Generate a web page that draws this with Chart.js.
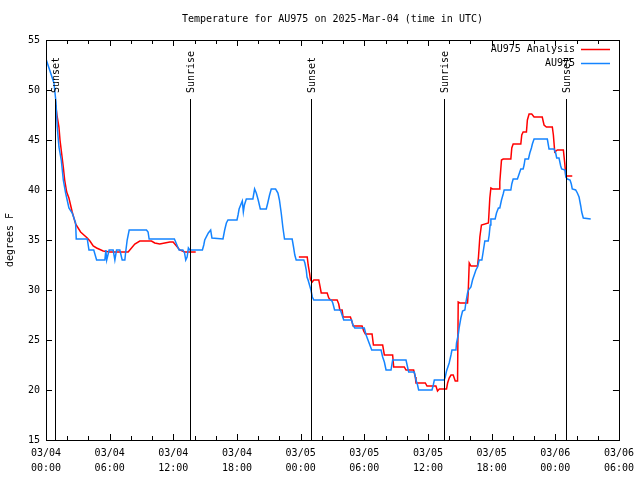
<!DOCTYPE html>
<html>
<head>
<meta charset="utf-8">
<style>
  html, body { margin: 0; padding: 0; background: #fff; }
  canvas { display: block; }
</style>
<script src="https://cdn.jsdelivr.net/npm/chart.js@4/dist/chart.umd.min.js"></script>
</head>
<body>
<canvas id="temp_chart" width="640" height="480"></canvas>
<script>
// hours since 03/04 00:00 UTC
var obsHours = [0.0, 0.75, 0.94, 1.06, 1.22, 1.44, 1.63, 1.85, 2.16, 2.47, 2.79, 2.85, 3.89, 4.05, 4.5, 4.77,
  5.55, 5.64, 5.72, 5.95, 6.33, 6.49, 6.65, 6.96, 7.18, 7.43, 7.5, 7.65, 7.84, 9.47, 9.62, 9.72,
  12.1, 12.3, 12.54, 12.9, 13.06, 13.17, 13.3, 13.42, 13.55, 14.74, 14.87, 14.96, 15.3, 15.52, 15.64,
  16.68, 16.84, 17.0, 17.15, 18.0, 18.1, 18.2, 18.42, 18.5, 18.6, 18.7, 18.88, 19.5, 19.66, 19.82,
  20.0, 20.2, 20.76, 20.9, 21.07, 21.23, 21.64, 21.86, 22.0, 22.17, 22.32, 22.48, 23.2, 23.33, 23.45,
  23.58, 24.3, 24.4, 24.53, 24.6, 24.7, 24.89, 24.97, 25.1, 25.24, 26.9, 27.03, 27.2, 27.75, 28.06,
  28.8, 28.92, 29.1, 30.0, 30.17, 30.7, 31.58, 31.73, 31.89, 32.05, 32.52, 32.67, 33.93, 34.18, 34.71,
  34.87, 35.02, 35.12, 36.38, 36.5, 36.6, 37.53, 37.63, 37.75, 38.0, 38.17, 38.26, 38.64, 38.69, 38.85,
  38.95, 39.1, 39.26, 39.48, 39.58, 39.73, 39.82, 40.05, 40.2, 40.36, 40.52, 40.67, 40.83, 41.08, 41.2,
  41.36, 41.68, 41.77, 41.86, 41.93, 42.33, 42.46, 42.64, 42.77, 42.93, 43.09, 43.18, 43.81, 43.9, 44.03,
  44.43, 44.59, 44.75, 44.97, 45.06, 45.15, 45.47, 45.6, 45.75, 45.84, 46.0, 47.25, 47.41, 47.88, 48.04,
  48.13, 48.35, 48.51, 48.6, 48.92, 48.99, 49.14, 49.39, 49.51, 49.6, 49.92, 50.08, 50.24, 50.4, 50.49,
  50.64, 51.34];
var obsTemp = [53.1, 50.7, 48.8, 46.3, 44.3, 43.0, 41.0, 39.7, 38.2, 37.7, 36.7, 35.1, 35.1, 34.0, 34.0, 33.0,
  33.0, 34.0, 33.0, 34.0, 34.0, 33.0, 34.0, 34.0, 33.0, 33.0, 33.7, 35.0, 36.0, 36.0, 35.8, 35.1,
  35.1, 34.6, 34.0, 34.0, 33.7, 33.0, 33.3, 34.2, 34.0, 34.0, 34.5, 35.0, 35.7, 36.0, 35.2,
  35.1, 36.0, 36.7, 37.0, 37.0, 37.5, 38.1, 38.7, 38.9, 37.8, 38.5, 39.1, 39.1, 40.1, 39.7,
  39.0, 38.1, 38.1, 38.7, 39.5, 40.1, 40.1, 39.7, 39.0, 37.7, 36.3, 35.1, 35.1, 34.3, 33.5,
  33.0, 33.0, 32.7, 32.0, 31.3, 31.0, 30.3, 30.0, 29.3, 29.0, 29.0, 28.7, 28.0, 28.0, 27.0,
  27.0, 26.5, 26.2, 26.2, 25.5, 24.0, 24.0, 23.3, 22.8, 22.0, 22.0, 23.0, 23.0, 21.8, 21.8,
  21.0, 20.5, 20.0, 20.0, 20.5, 21.0, 21.0, 21.3, 21.9, 22.7, 23.5, 24.0, 24.0, 24.7, 25.5,
  26.3, 27.2, 27.9, 28.0, 28.8, 29.7, 30.0, 30.3, 31.0, 31.5, 32.0, 32.3, 33.0, 33.0, 33.8,
  34.9, 34.9, 35.5, 36.5, 37.1, 37.1, 37.7, 38.2, 38.2, 39.0, 39.6, 40.0, 40.0, 40.6, 41.1,
  41.1, 41.6, 42.1, 42.1, 42.5, 43.1, 43.1, 43.7, 44.2, 44.6, 45.1, 45.1, 44.1, 44.1, 43.7,
  43.2, 43.2, 42.4, 42.1, 42.0, 41.3, 41.1, 41.0, 40.6, 40.1, 40.0, 39.7, 39.3, 38.4, 37.8,
  37.2, 37.1];

// analysis has a gap between the two runs (null)
var anaHours = [0.91, 1.06, 1.22, 1.32, 1.63, 1.76, 1.95, 2.16, 2.47, 2.79, 3.26, 3.89, 4.14, 4.45, 4.77,
  5.39, 6.02, 7.27, 7.74, 7.9, 8.37, 8.84, 9.94, 10.25, 10.72, 11.19, 11.67, 11.98, 12.3, 12.6, 13.08, 14.11,
  19.0,
  23.83, 24.62, 24.71, 24.84, 24.93, 25.09, 25.24, 25.71, 25.8, 25.94, 26.5, 26.65, 26.81, 27.44, 27.59,
  27.69, 27.91, 28.0, 28.69, 28.85, 28.95, 29.79, 29.94, 30.1, 30.73, 30.86, 31.73, 31.89, 32.67, 32.77,
  33.77, 33.93, 34.65, 34.81, 34.87, 35.75, 35.91, 36.75, 36.9, 37.07, 37.75, 37.85, 38.0, 38.17, 38.38,
  38.57, 38.79, 38.85, 39.01, 39.73, 39.79, 39.89, 40.05, 40.67, 40.76, 40.89, 41.04, 41.7, 41.83, 41.93,
  42.08, 42.71, 42.77, 42.93, 43.09, 43.81, 43.9, 44.03, 44.75, 44.84, 44.97, 45.28, 45.37, 45.53, 45.78,
  46.0, 46.77, 46.94, 47.16, 47.72, 47.82, 47.95, 48.19, 48.76, 48.89, 48.99, 49.6];
var anaTemp = [48.5, 47.3, 46.3, 45.0, 42.3, 41.0, 39.8, 39.2, 37.8, 36.6, 35.8, 35.2, 34.9, 34.4, 34.2,
  33.9, 33.8, 33.8, 33.8, 34.0, 34.6, 34.9, 34.9, 34.7, 34.6, 34.7, 34.8, 34.8, 34.4, 34.0, 33.8, 33.8,
  null,
  33.3, 33.3, 32.5, 31.7, 31.0, 30.8, 31.0, 31.0, 30.5, 29.7, 29.7, 29.2, 29.0, 29.0, 28.6,
  28.0, 28.0, 27.3, 27.3, 26.8, 26.4, 26.4, 25.9, 25.6, 25.6, 24.5, 24.5, 23.5, 23.5, 22.3,
  22.3, 22.0, 22.0, 21.3, 20.7, 20.7, 20.4, 20.4, 19.9, 20.1, 20.1, 20.7, 21.2, 21.5, 21.5,
  20.9, 20.9, 28.8, 28.7, 28.7, 29.7, 32.7, 32.4, 32.4, 33.3, 35.3, 36.5, 36.7, 39.2, 40.2,
  40.1, 40.1, 40.8, 43.0, 43.1, 43.1, 44.2, 44.6, 44.6, 45.5, 45.8, 45.8, 47.0, 47.6, 47.6,
  47.3, 47.3, 46.5, 46.3, 46.3, 45.5, 43.8, 44.0, 44.0, 42.7, 41.4, 41.4];

var sunHours = [0.85, 13.55, 24.93, 37.53, 49.0];
var sunNames = ['Sunset', 'Sunrise', 'Sunset', 'Sunrise', 'Sunset'];

var xTickLabels = [['03/04', '00:00'], ['03/04', '06:00'], ['03/04', '12:00'], ['03/04', '18:00'],
  ['03/05', '00:00'], ['03/05', '06:00'], ['03/05', '12:00'], ['03/05', '18:00'],
  ['03/06', '00:00'], ['03/06', '06:00']];

var FONT = 'DejaVu Sans Mono';

function toPoints(xs, ys) {
  return xs.map(function (x, i) { return { x: x, y: ys[i] }; });
}

// frame, inward ticks, sunrise/sunset markers, legend and titles
Chart.register({
  id: 'gnuplotLook',
  afterDatasetsDraw: function (chart) {
    var ctx = chart.ctx;
    var a = chart.chartArea;
    var xs = chart.scales.x, ys = chart.scales.y;

    ctx.save();
    ctx.strokeStyle = '#000';
    ctx.lineWidth = 1;

    // sun lines
    ctx.font = '10px ' + FONT;
    ctx.fillStyle = '#000';
    sunHours.forEach(function (h, i) {
      var px = Math.round(xs.getPixelForValue(h)) + 0.5;
      ctx.beginPath();
      ctx.moveTo(px, 99);
      ctx.lineTo(px, a.bottom);
      ctx.stroke();
      ctx.save();
      ctx.translate(px + 1, 93);
      ctx.rotate(-Math.PI / 2);
      ctx.textAlign = 'left';
      ctx.textBaseline = 'middle';
      ctx.fillText(sunNames[i], 0, 0);
      ctx.restore();
    });

    // frame
    ctx.strokeRect(Math.round(a.left) + 0.5, Math.round(a.top) + 0.5,
      Math.round(a.right - a.left), Math.round(a.bottom - a.top));

    // y ticks (left and right, pointing in)
    ctx.beginPath();
    for (var v = 15; v <= 55; v += 5) {
      var py = Math.round(ys.getPixelForValue(v)) + 0.5;
      ctx.moveTo(a.left, py); ctx.lineTo(a.left + 6, py);
      ctx.moveTo(a.right, py); ctx.lineTo(a.right - 6, py);
    }
    // x ticks every 2h, longer every 6h (bottom and top)
    for (var h = 0; h <= 54; h += 2) {
      var px2 = Math.round(xs.getPixelForValue(h)) + 0.5;
      var len = (h % 6 === 0) ? 6 : 4;
      ctx.moveTo(px2, a.bottom); ctx.lineTo(px2, a.bottom - len);
      ctx.moveTo(px2, a.top); ctx.lineTo(px2, a.top + len);
    }
    ctx.stroke();

    // legend, inside top right
    ctx.textAlign = 'right';
    ctx.textBaseline = 'middle';
    chart.data.datasets.forEach(function (ds, i) {
      var ly = 49 + i * 14;
      ctx.fillStyle = '#000';
      ctx.fillText(ds.label, 575, ly);
      ctx.strokeStyle = ds.borderColor;
      ctx.lineWidth = 1.5;
      ctx.beginPath();
      ctx.moveTo(581, ly + 0.5);
      ctx.lineTo(610, ly + 0.5);
      ctx.stroke();
    });

    // title and y label
    ctx.fillStyle = '#000';
    ctx.textAlign = 'center';
    ctx.fillText('Temperature for AU975 on 2025-Mar-04 (time in UTC)', (a.left + a.right) / 2, 19);
    ctx.save();
    ctx.translate(10, (a.top + a.bottom) / 2);
    ctx.rotate(-Math.PI / 2);
    ctx.fillText('degrees F', 0, 0);
    ctx.restore();

    ctx.restore();
  }
});

var chart = new Chart(document.getElementById('temp_chart'), {
  type: 'line',
  data: {
    datasets: [
      {
        label: 'AU975 Analysis',
        data: toPoints(anaHours, anaTemp),
        borderColor: '#ff0000',
        borderWidth: 1.5,
        pointRadius: 0,
        tension: 0,
        spanGaps: false,
        order: 2
      },
      {
        label: 'AU975',
        data: toPoints(obsHours, obsTemp),
        borderColor: 'rgb(20,132,255)',
        borderWidth: 1.5,
        pointRadius: 0,
        tension: 0,
        order: 1
      }
    ]
  },
  options: {
    responsive: false,
    animation: false,
    layout: { padding: { left: 0, right: 20, top: 40, bottom: 0 } },
    plugins: {
      legend: { display: false },
      tooltip: { enabled: false },
      title: { display: false }
    },
    scales: {
      x: {
        type: 'linear',
        min: 0,
        max: 54,
        grid: { display: false, drawTicks: false },
        border: { display: false },
        afterFit: function (s) { s.height = 40; },
        ticks: {
          stepSize: 6,
          autoSkip: false,
          maxRotation: 0,
          padding: 6,
          color: '#000',
          font: { family: FONT, size: 10, lineHeight: 1.5 },
          callback: function (value) { return xTickLabels[value / 6]; }
        }
      },
      y: {
        min: 15,
        max: 55,
        grid: { display: false, drawTicks: false },
        border: { display: false },
        afterFit: function (s) { s.width = 46; },
        ticks: {
          stepSize: 5,
          padding: 6,
          color: '#000',
          font: { family: FONT, size: 10 }
        }
      }
    }
  }
});
</script>
</body>
</html>
